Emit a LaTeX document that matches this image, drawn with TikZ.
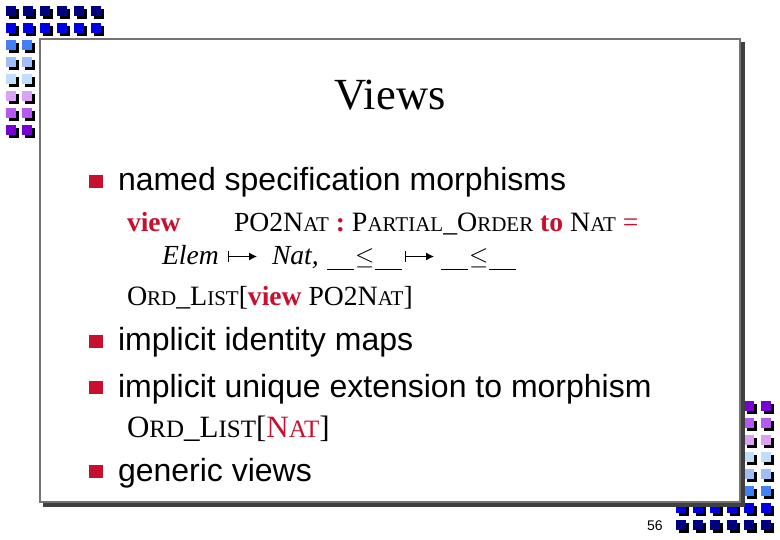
\documentclass[tikz,border=0pt]{standalone}
\usepackage{fontspec}
\setmainfont{Liberation Serif}
\newfontfamily\headfont{Liberation Sans}
\usetikzlibrary{positioning}
\definecolor{navydot}{RGB}{0,0,128}
\definecolor{bluedot}{RGB}{0,0,230}
\definecolor{skydot}{RGB}{66,128,245}
\definecolor{paledot}{RGB}{160,190,245}
\definecolor{icedot}{RGB}{190,222,250}
\definecolor{liladot}{RGB}{220,160,245}
\definecolor{violetdot}{RGB}{180,90,240}
\definecolor{purpledot}{RGB}{120,0,215}
\definecolor{keyred}{RGB}{200,16,46}
\newcommand{\smc}[2]{{\fontsize{28}{28}\selectfont #1}{\fontsize{21}{21}\selectfont #2}}
\newcommand{\ul}{\rule[-5pt]{27pt}{1.2pt}}
\newcommand{\leqsign}{\kern1pt$\leq$\kern1pt}
\tikzset{
  x=1pt,y=-1pt,
  every node/.style={inner sep=0pt,outer sep=0pt,anchor=base west},
  bodytext/.style={font=\headfont\fontsize{32}{32}\selectfont},
  formula/.style={font=\fontsize{27.6}{27.6}\selectfont},
  keyword/.style={text=keyred,font=\fontsize{27.6}{27.6}\selectfont\bfseries}
}
\newcommand{\dotsquare}[3]{
  \fill[black] (#1+3,#2+3) rectangle +(10,10);
  \fill[#3] (#1,#2) rectangle +(10,10);
}
\newcommand{\maparrow}[1]{
  \draw[line width=1pt,-{Latex[length=8pt,width=8pt]}] (#1) ++(0,-14) -- ++(0,11) ++(0,-5.5) -- ++(29,0);
}
\usetikzlibrary{arrows.meta}
\begin{document}
\begin{tikzpicture}
  \useasboundingbox (0,0) rectangle (780,540);
  % corner dots
  \foreach \colx in {6,23,40,57,74,91} {
    \dotsquare{\colx}{6}{navydot}
    \dotsquare{\colx}{23}{bluedot}
  }
  \foreach \colx in {6,22} {
    \foreach \rowy/\shade in {40/skydot,57/paledot,74/icedot,91/liladot,108/violetdot,125/purpledot} {
      \dotsquare{\colx}{\rowy}{\shade}
    }
  }
  \foreach \colx in {676,693,710,727,744,761} {
    \dotsquare{\colx}{503}{bluedot}
    \dotsquare{\colx}{520}{navydot}
  }
  \foreach \colx in {744,761} {
    \foreach \rowy/\shade in {486/skydot,469/paledot,452/icedot,435/liladot,418/violetdot,401/purpledot} {
      \dotsquare{\colx}{\rowy}{\shade}
    }
  }
  % slide panel
  \fill[black!75] (43,42) rectangle (745,507);
  \fill[white,draw=black!55,line width=2pt] (40,39) rectangle (740,502);
  \node[font=\fontsize{44.5}{44.5}\selectfont,anchor=base] (title) at (390,110) {Views};
  % bullets
  \foreach \rowy in {188,348,394,478} {
    \fill[keyred] (89,\rowy-13) rectangle +(14,13);
  }
  \node[bodytext] (named) at (118,191) {named specification morphisms};
  \node[keyword] (view) at (127,232) {view};
  \node[formula] (po) at (234,232) {PO2\smc{N}{AT} \textcolor{keyred}{\textbf{:}} \smc{P}{ARTIAL}\_\smc{O}{RDER} \textcolor{keyred}{\textbf{to}} \smc{N}{AT} \textcolor{keyred}{=}};
  \node[formula] (elem) at (162,265) {\textit{Elem}};
  \node[formula] (nat) at (272,265) {\textit{Nat,}};
  \node[formula] (lhs) at (327,265) {\ul\leqsign\ul};
  \node[formula] (rhs) at (441,265) {\ul\leqsign\ul};
  \coordinate (map1) at (228,265);
  \coordinate (map2) at (405,265);
  \maparrow{map1}
  \maparrow{map2}
  \node[formula] (inst) at (127,306) {\smc{O}{RD}\_\smc{L}{IST}[\textcolor{keyred}{\textbf{view}} PO2\smc{N}{AT}]};
  \node[bodytext] (maps) at (118,351) {implicit identity maps};
  \node[bodytext] (unique) at (118,397) {implicit unique extension to morphism};
  \node[font=\fontsize{31}{31}\selectfont] (ordnat) at (127,437) {O{\fontsize{25}{25}\selectfont RD}\_L{\fontsize{25}{25}\selectfont IST}[\textcolor{keyred}{N{\fontsize{25}{25}\selectfont AT}}]};
  \node[bodytext] (generic) at (118,481) {generic views};
  \node[font=\headfont\fontsize{14}{14}\selectfont] (page) at (647,530) {56};
\end{tikzpicture}
\end{document}
